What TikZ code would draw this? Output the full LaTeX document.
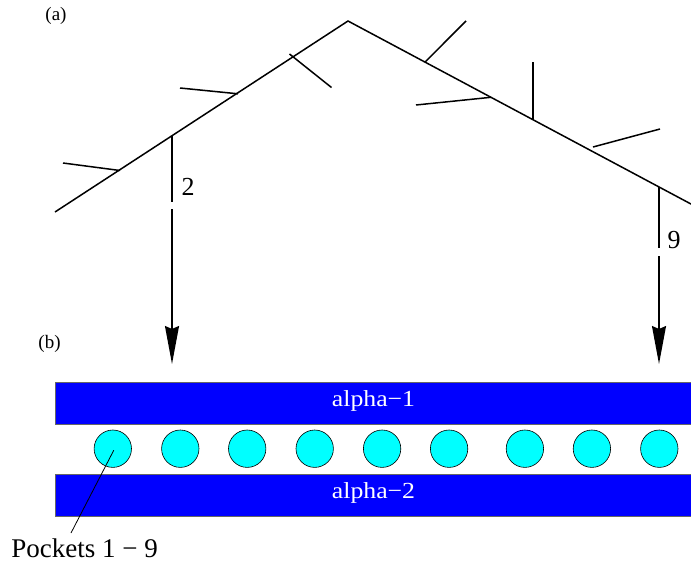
\documentclass[tikz,border=0pt]{standalone}
\usepackage{fontspec}
\setmainfont{Liberation Serif}
\usetikzlibrary{arrows.meta}
\definecolor{bandblue}{RGB}{0,0,255}
\definecolor{pocketcyan}{RGB}{0,255,255}
\tikzset{
  treeline/.style={line width=1.5pt, line cap=butt},
  droparrow/.style={line width=1.5pt, -{Stealth[length=38pt,width=14pt,inset=3pt]}},
  band/.style={draw=black!60, line width=0.8pt, fill=bandblue},
  pocket/.style={circle, draw=black, line width=0.6pt, fill=pocketcyan, minimum size=37.4pt, inner sep=0pt},
  bandtext/.style={text=white, font=\fontsize{23}{27}\selectfont, inner sep=0pt, anchor=base, xscale=1.12},
  numlabel/.style={font=\fontsize{26}{30}\selectfont, inner sep=0pt},
  panel/.style={font=\fontsize{19}{22}\selectfont, inner sep=0pt}
}
\begin{document}
\begin{tikzpicture}[x=1pt,y=-1pt]
\useasboundingbox (0,0) rectangle (691,562);
% panel labels
\node[panel] (pa) at (56,16) {(a)};
\node[panel] (pb) at (49.5,343.5) {(b)};
% main tree lines
\coordinate (L) at (55,212);
\coordinate (apex) at (348,21);
\coordinate (R) at (693,205.1);
\draw[treeline] (L) -- (apex) -- (R);
% branch points and tips, left side
\coordinate (b1) at (120,170.5); \coordinate (t1) at (63,163);
\coordinate (b2) at (172,135.8);
\coordinate (b3) at (238,93.8);  \coordinate (t3) at (180,88);
\coordinate (b4) at (289.5,54);  \coordinate (t4) at (331.5,87.5);
\draw[treeline] (b1) -- (t1);
\draw[treeline] (b3) -- (t3);
\draw[treeline] (b4) -- (t4);
% right side
\coordinate (b5) at (425,62.1);  \coordinate (t5) at (466,21);
\coordinate (b6) at (491,97.3);  \coordinate (t6) at (416,105);
\coordinate (b7) at (533,119.7); \coordinate (t7) at (533,62);
\coordinate (b8) at (593,147);   \coordinate (t8) at (660,129);
\coordinate (b9) at (659,186.9);
\draw[treeline] (b5) -- (t5);
\draw[treeline] (b6) -- (t6);
\draw[treeline] (b7) -- (t7);
\draw[treeline] (b8) -- (t8);
% drop arrows with gaps
\coordinate (g2a) at (172,202); \coordinate (g2b) at (172,209);
\coordinate (a2) at (172,364);
\draw[treeline] (b2) -- (g2a);
\draw[droparrow] (g2b) -- (a2);
\node[numlabel] (n2) at (188,187) {2};
\coordinate (g9a) at (659,247.5); \coordinate (g9b) at (659,256);
\coordinate (a9) at (659,364);
\draw[treeline] (b9) -- (g9a);
\draw[droparrow] (g9b) -- (a9);
\node[numlabel] (n9) at (674,240) {9};
% bands
\draw[band] (55,382) rectangle (695,424);
\draw[band] (55,474) rectangle (695,516.5);
\node[bandtext] (al1) at (373.5,406.5) {alpha\textminus 1};
\node[bandtext] (al2) at (373.5,498.3) {alpha\textminus 2};
% pockets
\foreach \i/\x in {1/112.8,2/180.3,3/247.2,4/314.7,5/382.1,6/449.1,7/524.9,8/591.9,9/659.3}{
  \node[pocket] (p\i) at (\x,448.7) {};
}
% pointer
\coordinate (pt) at (71,533);
\draw[line width=0.8pt] ([shift={(1,1.5)}]p1.center) -- (pt);
\node[font=\fontsize{27}{32}\selectfont, inner sep=0pt, anchor=base] (pk) at (84.7,557.3) {Pockets 1 \textminus\ 9};
\end{tikzpicture}
\end{document}
